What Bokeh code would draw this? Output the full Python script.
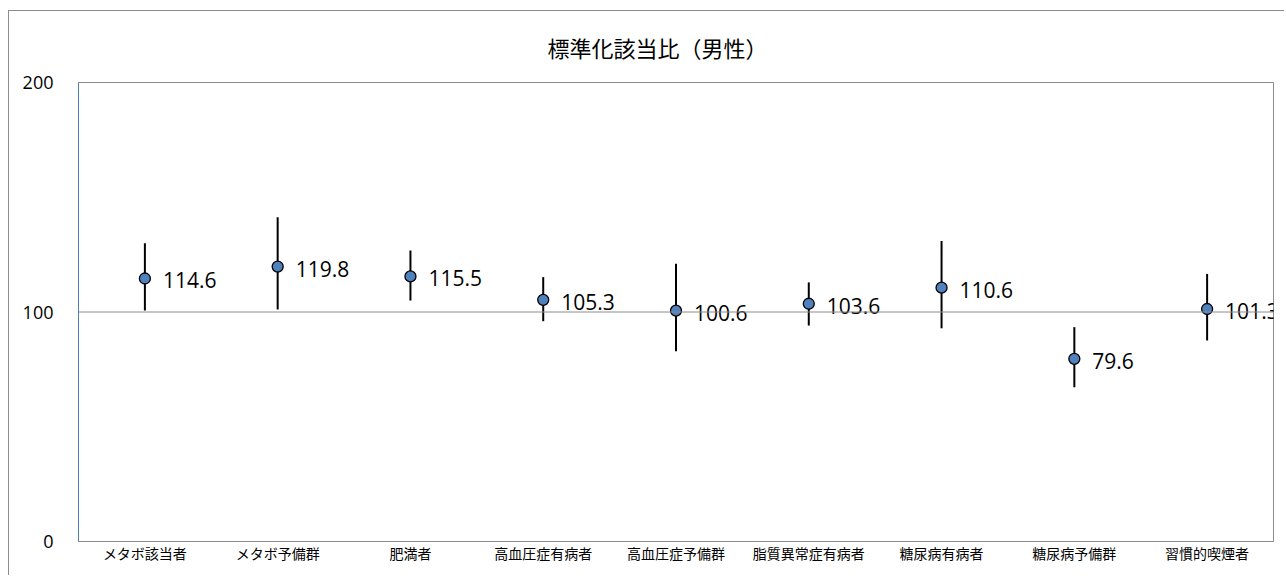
from bokeh.plotting import figure
from bokeh.models import FactorRange, Range1d, Span, FixedTicker, ColumnDataSource
from bokeh.core.properties import value
from bokeh.embed import file_html
from bokeh.resources import INLINE

categories = ["メタボ該当者", "メタボ予備群", "肥満者", "高血圧症有病者", "高血圧症予備群",
              "脂質異常症有病者", "糖尿病有病者", "糖尿病予備群", "習慣的喫煙者"]
sir = [114.6, 119.8, 115.5, 105.3, 100.6, 103.6, 110.6, 79.6, 101.3]
ci_low = [100.7, 101.1, 105.0, 96.0, 82.9, 94.1, 92.9, 67.2, 87.6]
ci_high = [130.0, 141.3, 126.8, 115.2, 121.0, 112.9, 130.9, 93.4, 116.6]
y_ticks = [0, 100, 200]
title_text = "標準化該当比（男性）"

src = ColumnDataSource(dict(cat=categories, sir=sir, lo=ci_low, hi=ci_high,
                            lbl=[f"{v:.1f}" for v in sir]))

GREY = "#8c8c8c"
p = figure(width=1276, height=565, x_range=FactorRange(factors=categories, range_padding=0),
           y_range=Range1d(0, 200), output_backend="svg", toolbar_location=None,
           min_border_left=69, min_border_top=71, min_border_right=12, min_border_bottom=35,
           title=title_text)
p.styles = {"margin-left": "8px", "margin-top": "10px",
            "border-left": f"1px solid {GREY}", "border-top": f"1px solid {GREY}"}
p.outline_line_color = GREY
p.outline_line_width = 1
p.grid.visible = False
p.background_fill_color = "white"
p.border_fill_color = "white"

p.title.align = "left"
p.title.offset = 469
p.title.vertical_align = "top"
p.title.standoff = 36
p.title.text_font = "Noto Sans CJK JP"
p.title.text_font_size = "22px"
p.title.text_font_style = "normal"
p.title.text_color = "black"

# y axis
p.yaxis.ticker = FixedTicker(ticks=y_ticks)
p.yaxis.axis_line_color = "#4a7ebb"
p.yaxis.axis_line_width = 1
p.yaxis.major_tick_line_color = None
p.yaxis.minor_tick_line_color = None
p.yaxis.major_tick_out = 0
p.yaxis.major_tick_in = 0
p.yaxis.major_label_standoff = 25
p.yaxis.major_label_text_font = "Open Sans"
p.yaxis.major_label_text_font_size = "18px"
p.yaxis.major_label_text_color = "black"

# x axis
p.xaxis.axis_line_color = GREY
p.xaxis.major_tick_line_color = None
p.xaxis.minor_tick_line_color = None
p.xaxis.major_tick_out = 0
p.xaxis.major_tick_in = 0
p.xaxis.major_label_standoff = 1
p.xaxis.major_label_text_font = "Noto Sans CJK JP"
p.xaxis.major_label_text_font_size = "14px"
p.xaxis.major_label_text_color = "black"

p.add_layout(Span(location=100, dimension="width", line_color=GREY, line_width=1))

p.segment(x0="cat", y0="lo", x1="cat", y1="hi", source=src, line_color="black", line_width=2)
p.scatter(x="cat", y="sir", source=src, size=11, fill_color="#4f81bd",
          line_color="black", line_width=1.3)
p.text(x="cat", y="sir", text="lbl", source=src, x_offset=18, y_offset=2,
       text_font=value("Open Sans"), text_font_size="21px", text_color="black",
       text_baseline="middle", text_align="left")

open("out.html", "w").write(file_html(p, INLINE))
